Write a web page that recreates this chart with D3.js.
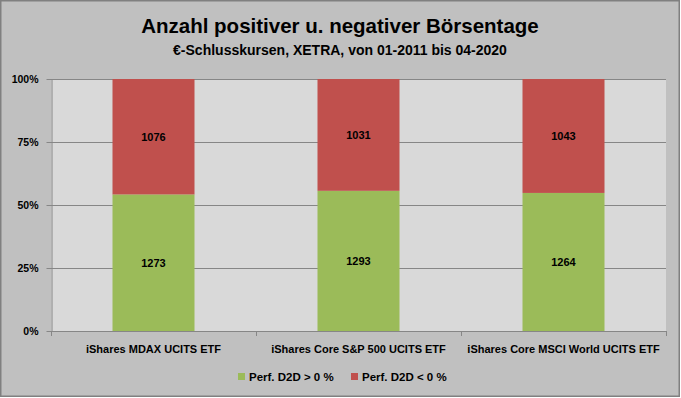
<!DOCTYPE html>
<html>
<head>
<meta charset="utf-8">
<script src="https://cdn.jsdelivr.net/npm/d3@7"></script>
<style>
  html, body { margin: 0; padding: 0; background: #ffffff; }
  svg { display: block; font-family: "Liberation Sans", Arial, sans-serif; }
</style>
</head>
<body>
<div id="chart"></div>
<script>
// data
const categories = ["iShares MDAX UCITS ETF", "iShares Core S&P 500 UCITS ETF", "iShares Core MSCI World UCITS ETF"];
const positiveDays = [1273, 1293, 1264];
const negativeDays = [1076, 1031, 1043];
const seriesNames = ["Perf. D2D > 0 %", "Perf. D2D < 0 %"];
const yTicks = [0, 0.25, 0.5, 0.75, 1];

const colors = ["#9bbb59", "#c0504d"];

const width = 681, height = 398;
const plot = { left: 51, right: 666, top: 79, bottom: 331 };

let svg = d3.select("#chart").append("svg")
  .attr("width", width)
  .attr("height", height);

// chart background + border
svg.append("rect")
  .attr("x", 0.75).attr("y", 0.75)
  .attr("width", 678.5).attr("height", 395.5)
  .attr("fill", "#c0c0c0")
  .attr("stroke", "#808080")
  .attr("stroke-width", 1.5);

// plot area
svg.append("rect")
  .attr("x", plot.left).attr("y", plot.top)
  .attr("width", plot.right - plot.left).attr("height", plot.bottom - plot.top)
  .attr("fill", "#d9d9d9");

// titles
svg.append("text")
  .attr("x", 340).attr("y", 33)
  .attr("text-anchor", "middle")
  .style("font-size", "20.5px").style("font-weight", "bold")
  .text("Anzahl positiver u. negativer Börsentage");

svg.append("text")
  .attr("x", 340).attr("y", 55)
  .attr("text-anchor", "middle")
  .style("font-size", "14px").style("font-weight", "bold")
  .text("€-Schlusskursen, XETRA, von 01-2011 bis 04-2020");

// scales
let x = d3.scaleBand()
  .domain(categories)
  .range([plot.left, plot.right])
  .paddingInner(0.6)
  .paddingOuter(0.3);

let y = d3.scaleLinear()
  .domain([0, 1])
  .range([plot.bottom, plot.top]);

// gridlines
svg.append("g")
  .selectAll("line")
  .data(yTicks.filter(d => d > 0))
  .join("line")
    .attr("x1", plot.left).attr("x2", plot.right)
    .attr("y1", d => Math.round(y(d)) + 0.5).attr("y2", d => Math.round(y(d)) + 0.5)
    .attr("stroke", "#868686");

// stacked 100% data
let rows = categories.map((c, i) => ({ cat: c, pos: positiveDays[i], neg: negativeDays[i] }));
let stack = d3.stack()
  .keys(["pos", "neg"])
  .offset(d3.stackOffsetExpand);
let layers = stack(rows);

let layer = svg.append("g")
  .selectAll("g")
  .data(layers)
  .join("g")
    .attr("fill", (d, i) => colors[i]);

layer.selectAll("rect")
  .data(d => d)
  .join("rect")
    .attr("x", d => x(d.data.cat))
    .attr("width", x.bandwidth())
    .attr("y", d => y(d[1]))
    .attr("height", d => y(d[0]) - y(d[1]));

// value labels
layers.forEach(l => {
  svg.append("g")
    .selectAll("text")
    .data(l)
    .join("text")
      .attr("x", d => x(d.data.cat) + x.bandwidth() / 2)
      .attr("y", d => (y(d[0]) + y(d[1])) / 2 + 4)
      .attr("text-anchor", "middle")
      .style("font-size", "11px").style("font-weight", "bold")
      .text(d => d.data[l.key]);
});

// y axis
let yAxis = svg.append("g")
  .attr("transform", `translate(${plot.left + 0.5},0)`)
  .call(d3.axisLeft(y).tickValues(yTicks).tickFormat(d3.format(".0%")).tickSize(5).tickSizeOuter(0));
yAxis.select(".domain").attr("stroke", "#868686");
yAxis.selectAll(".tick line").attr("stroke", "#868686");
yAxis.selectAll(".tick text")
  .attr("x", -13)
  .attr("fill", "#000")
  .style("font-family", "Liberation Sans, Arial, sans-serif")
  .style("font-size", "10.5px").style("font-weight", "bold");

// x axis: Excel puts ticks between categories
let bounds = d3.range(categories.length + 1).map(i => plot.left + i * x.step());
let xAxis = svg.append("g");
xAxis.append("line")
  .attr("x1", plot.left).attr("x2", plot.right)
  .attr("y1", plot.bottom + 0.5).attr("y2", plot.bottom + 0.5)
  .attr("stroke", "#868686");
xAxis.selectAll(".tk")
  .data(bounds)
  .join("line")
    .attr("class", "tk")
    .attr("x1", d => Math.round(d) + 0.5).attr("x2", d => Math.round(d) + 0.5)
    .attr("y1", plot.bottom).attr("y2", plot.bottom + 5)
    .attr("stroke", "#868686");
xAxis.selectAll(".lbl")
  .data(categories)
  .join("text")
    .attr("class", "lbl")
    .attr("x", d => x(d) + x.bandwidth() / 2)
    .attr("y", 353)
    .attr("text-anchor", "middle")
    .style("font-size", "11px").style("font-weight", "bold")
    .text(d => d);

// legend
let legendX = [238, 351];
let legend = svg.append("g")
  .selectAll("g")
  .data(seriesNames)
  .join("g")
    .attr("transform", (d, i) => `translate(${legendX[i]},373)`);
legend.append("rect")
  .attr("width", 7).attr("height", 7)
  .attr("fill", (d, i) => colors[i]);
legend.append("text")
  .attr("x", 11).attr("y", 8)
  .style("font-size", "11.5px").style("font-weight", "bold")
  .text(d => d);
</script>
</body>
</html>
